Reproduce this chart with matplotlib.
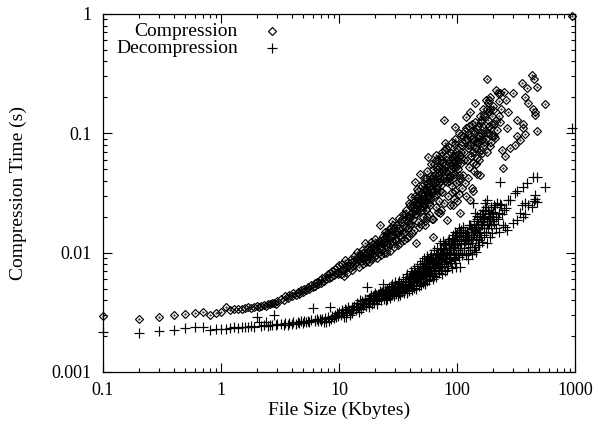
import matplotlib
matplotlib.use("Agg")
import matplotlib.pyplot as plt
from matplotlib.ticker import FixedLocator, LogLocator, NullFormatter

plt.rcParams["font.family"] = ["Liberation Serif", "DejaVu Serif"]

# file size (Kbytes), compression time (s), decompression time (s) -- one entry per file
size = [
    0.1, 0.2, 0.3, 0.4, 0.5, 0.6, 0.7, 0.8, 0.9, 1.0,
    1.1, 1.2, 1.3, 1.4, 1.5, 1.6, 1.7, 1.8, 1.9, 2.0,
    2.1, 2.2, 2.3, 2.4, 2.5, 2.6, 2.7, 2.8, 2.9, 3.0,
    3.2, 3.4, 3.5, 3.7, 3.8, 4.0, 4.1, 4.3, 4.5, 4.6,
    4.8, 5.0, 5.1, 5.3, 5.5, 5.6, 5.8, 6.0, 6.2, 6.3,
    6.5, 6.7, 6.9, 7.0, 7.2, 7.4, 7.6, 7.8, 8.0, 8.2,
    8.4, 8.6, 8.8, 9.0, 9.2, 9.4, 9.6, 9.8, 10.0, 9.9,
    10.3, 10.6, 10.9, 11.2, 11.5, 11.8, 12.0, 12.3, 12.6, 12.9,
    13.2, 13.5, 13.8, 14.1, 14.4, 14.7, 15.0, 15.3, 15.6, 15.9,
    16.2, 16.5, 16.8, 17.2, 17.5, 17.8, 18.1, 18.4, 18.7, 19.0,
    19.3, 19.6, 19.9, 20.3, 20.7, 21.1, 21.5, 21.9, 22.3, 22.7,
    23.1, 23.6, 24.0, 24.4, 24.8, 25.2, 25.6, 26.0, 26.4, 26.8,
    27.2, 27.6, 28.0, 28.4, 28.8, 29.2, 29.6, 30.0, 11.0, 17.0,
    30.5, 31, 31.5, 32, 32.6, 33.2, 33.8, 34.4, 35, 35.6,
    36.2, 36.8, 37.4, 38, 38.6, 39.2, 39.8, 40.4, 41, 41.6,
    42.2, 42.8, 43.4, 44, 44.6, 45.2, 45.8, 46.4, 47, 47.6,
    48.2, 48.8, 49.4, 50, 50.6, 51.2, 51.8, 52.4, 53, 53.6,
    54.2, 54.8, 55.4, 56, 56.6, 57.2, 57.8, 58.4, 59, 59.6,
    60.5, 61.5, 62.5, 63, 64, 65, 66, 67, 68, 69,
    70, 71, 72, 73, 74, 75, 76, 77, 78, 79,
    80, 81.7, 83, 84.5, 86, 87.5, 89, 90.5, 92, 93.5,
    95, 96, 97, 98, 99, 100, 102, 104, 106, 108,
    33, 38.3, 43, 47.3, 52, 56.3, 61, 65.5, 71.5, 76.5,
    34.8, 39.5, 44.3, 49, 53.5, 58, 62, 67.5, 73.5, 82,
    37, 41.3, 45.5, 50.3, 55, 59.3, 63.5, 68.5, 74.5, 85,
    88, 91, 94, 97.5, 101, 103, 105, 107, 109, 111,
    113, 115, 117, 119, 121, 123, 125, 127, 129, 131,
    133, 135, 137, 139, 141, 142, 144, 146, 147, 149,
    151, 153, 155, 157, 159, 161, 163, 166, 169, 173,
    176, 179, 179.5, 183, 186, 189, 191, 195, 199, 202,
    206, 210, 214, 217, 222, 228, 233, 239, 245, 250,
    255, 264, 270, 282, 298, 309, 320, 342, 353, 362,
    377, 389, 400, 430, 444, 450, 458, 473, 557, 950,
    380, 473.5, 458.5, 362.5, 320.5, 230, 190, 175, 160, 140,
    120, 130, 155.5, 165, 185, 200, 215, 225, 235, 260,
    15.5, 16.0, 18.0, 19.5, 21.0, 22.0, 23.5, 25.0, 26.5, 28.5,
    29.0, 31.8, 34.0, 36.5, 39.0, 41.0, 43.8, 46.0, 48.5, 51.5,
    54.5, 57.5, 60, 62.8, 65.8, 69.5, 72.5, 75.5, 78.5, 81,
    84, 87, 90, 93, 96.5, 99.5, 103.5, 107.5, 112, 116,
    118, 122, 126, 130.5, 134, 138, 143, 148, 152, 156,
    160.5, 164, 168, 172, 178, 182, 188, 194, 198, 205,
    40, 45, 50.5, 55.5, 60.2, 66.5, 72.2, 79.5, 86.5, 94.5,
    42, 47.8, 53.2, 58.8, 64.5, 70.5, 77.5, 85.5, 95.5, 105.5,
    63.8, 68.8, 74.8, 80.5, 88.5, 96.8, 110, 124, 138.5, 150,
    10.5, 12.2, 13.9, 15.8, 17.7, 19.7, 21.7, 24.2, 26.2, 28.2,
    25.5, 27.8, 30.2, 32.3, 34.6, 36.9, 39.3, 41.8, 44.5, 46.8,
    49.8, 52.8, 55.8, 58.2, 61.2, 64.2, 67.2, 70.8, 73.8, 77.2,
    80.8, 84.8, 88.8, 92.8, 96.2, 100.5, 104.5, 108.5, 114, 124.5,
    128, 132, 136, 145, 154, 162, 170, 180, 187, 197,
    18.5, 20.5, 22.5, 24.6, 53.8, 62.2, 71.2, 92.5, 118.5, 136.5,
    11.4, 12.8, 14.2, 15.2, 16.7, 18.3, 19.8, 20.9, 23.0, 24.7,
]

comp_time = [
    0.00296, 0.00278, 0.0029, 0.0030, 0.00305, 0.0031, 0.00316, 0.0030, 0.0031, 0.0032,
    0.00348, 0.0033, 0.00335, 0.0034, 0.00338, 0.00345, 0.0035, 0.00342, 0.0035, 0.00355,
    0.00352, 0.0036, 0.00365, 0.0036, 0.0037, 0.00368, 0.00375, 0.0038, 0.00372, 0.0039,
    0.0041, 0.0040, 0.0043, 0.0042, 0.0044, 0.0043, 0.0046, 0.0044, 0.0047, 0.0045,
    0.0049, 0.0047, 0.0050, 0.0049, 0.0052, 0.0050, 0.0054, 0.0052, 0.0056, 0.0053,
    0.0057, 0.0055, 0.0059, 0.0056, 0.0061, 0.0058, 0.0063, 0.0060, 0.0066, 0.0061,
    0.0068, 0.0063, 0.0070, 0.0065, 0.0073, 0.0067, 0.0076, 0.0069, 0.0079, 0.0066,
    0.0066, 0.0080, 0.0071, 0.0086, 0.0075, 0.0068, 0.0084, 0.0074, 0.0089, 0.0072,
    0.0078, 0.0093, 0.0082, 0.0102, 0.0088, 0.0076, 0.0097, 0.0085, 0.0106, 0.0081,
    0.0090, 0.0120, 0.0086, 0.0108, 0.0094, 0.0083, 0.0113, 0.0097, 0.0124, 0.0089,
    0.0098, 0.0118, 0.0092, 0.0130, 0.0104, 0.0090, 0.0123, 0.0101, 0.0172, 0.0096,
    0.0106, 0.0138, 0.0100, 0.0150, 0.0115, 0.0099, 0.0145, 0.0112, 0.0158, 0.0104,
    0.0118, 0.0160, 0.0186, 0.0125, 0.0170, 0.0111, 0.0150, 0.0130, 0.0064, 0.0084,
    0.0125, 0.0170, 0.0115, 0.0195, 0.0140, 0.0120, 0.0180, 0.0135, 0.0210, 0.0128,
    0.0150, 0.0230, 0.0132, 0.0200, 0.0160, 0.0138, 0.0250, 0.0175, 0.0295, 0.0145,
    0.0190, 0.0270, 0.0155, 0.0394, 0.0210, 0.0120, 0.0290, 0.0180, 0.0330, 0.0165,
    0.0460, 0.0220, 0.0310, 0.0175, 0.0360, 0.0240, 0.0200, 0.0420, 0.0260, 0.0185,
    0.0340, 0.0230, 0.0480, 0.0200, 0.0380, 0.0630, 0.0280, 0.0210, 0.0440, 0.0250,
    0.0390, 0.0190, 0.0500, 0.0136, 0.0300, 0.0450, 0.0240, 0.0660, 0.0350, 0.0220,
    0.0520, 0.0270, 0.0400, 0.0230, 0.0560, 0.0320, 0.0440, 0.1290, 0.0260, 0.0830,
    0.0480, 0.0188, 0.0600, 0.0300, 0.0420, 0.0250, 0.0540, 0.0360, 0.0650, 0.0280,
    0.0460, 0.1130, 0.0330, 0.0700, 0.0520, 0.0270, 0.0600, 0.0400, 0.0214, 0.0970,
    0.0155, 0.0185, 0.0230, 0.0250, 0.0300, 0.0320, 0.0340, 0.0380, 0.0420, 0.0480,
    0.0145, 0.0175, 0.0210, 0.0235, 0.0275, 0.0300, 0.0330, 0.0310, 0.0370, 0.0390,
    0.0165, 0.0220, 0.0265, 0.0280, 0.0320, 0.0360, 0.0400, 0.0450, 0.0500, 0.0560,
    0.0440, 0.0320, 0.0580, 0.0380, 0.0500, 0.0310, 0.0660, 0.0420, 0.0560, 0.0350,
    0.0450, 0.0700, 0.0380, 0.1360, 0.0600, 0.0420, 0.0800, 0.0520, 0.0276, 0.0650,
    0.0350, 0.0900, 0.0565, 0.0480, 0.0750, 0.1810, 0.0550, 0.0850, 0.0620, 0.0460,
    0.0830, 0.0600, 0.0950, 0.0448, 0.0720, 0.1000, 0.0680, 0.1130, 0.0800, 0.1380,
    0.0900, 0.2840, 0.0700, 0.1800, 0.1000, 0.0780, 0.2000, 0.0850, 0.1200, 0.1570,
    0.0950, 0.0910, 0.1300, 0.1070, 0.2180, 0.1400, 0.2160, 0.0720, 0.0510, 0.2240,
    0.0640, 0.1100, 0.1520, 0.0750, 0.2180, 0.0800, 0.1300, 0.0880, 0.2660, 0.1200,
    0.0990, 0.2400, 0.1800, 0.3090, 0.1600, 0.2840, 0.1430, 0.1050, 0.1750, 0.97,
    0.2000, 0.2450, 0.1500, 0.1100, 0.0950, 0.1250, 0.1600, 0.1900, 0.1250, 0.1050,
    0.1100, 0.1500, 0.1400, 0.1600, 0.1900, 0.1700, 0.2300, 0.1850, 0.1600, 0.1900,
    0.0095, 0.0100, 0.0105, 0.0112, 0.0118, 0.0125, 0.0130, 0.0138, 0.0145, 0.0155,
    0.0160, 0.0150, 0.0190, 0.0210, 0.0260, 0.0240, 0.0300, 0.0340, 0.0280, 0.0380,
    0.0420, 0.0360, 0.0550, 0.0440, 0.0600, 0.0500, 0.0650, 0.0580, 0.0720, 0.0640,
    0.0780, 0.0700, 0.0850, 0.0600, 0.0900, 0.0750, 0.1000, 0.0800, 0.0950, 0.0880,
    0.1050, 0.0900, 0.1150, 0.0950, 0.1200, 0.1000, 0.1250, 0.1080, 0.1150, 0.0950,
    0.1300, 0.0880, 0.1450, 0.1050, 0.1600, 0.1300, 0.1500, 0.1100, 0.1400, 0.1200,
    0.0200, 0.0250, 0.0230, 0.0300, 0.0280, 0.0350, 0.0330, 0.0400, 0.0450, 0.0520,
    0.0250, 0.0300, 0.0350, 0.0400, 0.0380, 0.0450, 0.0500, 0.0480, 0.0600, 0.0650,
    0.0550, 0.0600, 0.0700, 0.0750, 0.0680, 0.0820, 0.0850, 0.0980, 0.0880, 0.0850,
    0.0073, 0.0078, 0.0088, 0.0090, 0.0100, 0.0108, 0.0110, 0.0122, 0.0130, 0.0140,
    0.0120, 0.0135, 0.0145, 0.0160, 0.0170, 0.0190, 0.0200, 0.0215, 0.0230, 0.0260,
    0.0270, 0.0250, 0.0330, 0.0260, 0.0420, 0.0330, 0.0500, 0.0380, 0.0600, 0.0420,
    0.0550, 0.0400, 0.0500, 0.0450, 0.0650, 0.0550, 0.0450, 0.0700, 0.0600, 0.0750,
    0.0800, 0.0650, 0.0700, 0.0750, 0.0700, 0.0900, 0.0850, 0.1000, 0.1150, 0.0950,
    0.0100, 0.0108, 0.0114, 0.0126, 0.0170, 0.0190, 0.0215, 0.0250, 0.0300, 0.0330,
    0.0078, 0.0083, 0.0091, 0.0095, 0.0098, 0.0106, 0.0114, 0.0116, 0.0120, 0.0133,
]

decomp_time = [
    0.00216, 0.00211, 0.00221, 0.00225, 0.00235, 0.00237, 0.00236, 0.00225, 0.0023, 0.0023,
    0.0023, 0.00235, 0.0024, 0.00232, 0.0024, 0.00238, 0.0024, 0.00242, 0.0024, 0.00287,
    0.0026, 0.00245, 0.0025, 0.00262, 0.00245, 0.0025, 0.00248, 0.0030, 0.0025, 0.00252,
    0.00252, 0.00248, 0.00255, 0.0025, 0.00258, 0.00252, 0.0026, 0.00254, 0.00262, 0.00256,
    0.00265, 0.00258, 0.00268, 0.0026, 0.0027, 0.00262, 0.00272, 0.00342, 0.00275, 0.00265,
    0.00278, 0.00268, 0.0028, 0.00265, 0.0028, 0.00262, 0.00283, 0.0026, 0.0029, 0.00268,
    0.00352, 0.0028, 0.00295, 0.00285, 0.0030, 0.0029, 0.0031, 0.00295, 0.0032, 0.0030,
    0.0030, 0.0033, 0.0031, 0.0034, 0.0029, 0.0032, 0.0035, 0.0030, 0.0033, 0.0031,
    0.0034, 0.0036, 0.0033, 0.0038, 0.0035, 0.0032, 0.0037, 0.0034, 0.0039, 0.0036,
    0.0037, 0.0040, 0.0036, 0.0052, 0.0038, 0.0035, 0.0042, 0.0039, 0.0044, 0.0037,
    0.0040, 0.0043, 0.0038, 0.0046, 0.0041, 0.0037, 0.0045, 0.0042, 0.0048, 0.0040,
    0.0043, 0.0055, 0.0041, 0.0049, 0.0044, 0.0040, 0.0050, 0.0045, 0.0052, 0.0042,
    0.0046, 0.0053, 0.0044, 0.0055, 0.0047, 0.0043, 0.0057, 0.0049, 0.0029, 0.0036,
    0.0045, 0.0052, 0.0043, 0.0058, 0.0048, 0.0044, 0.0055, 0.0047, 0.0060, 0.0046,
    0.0050, 0.0062, 0.0046, 0.0066, 0.0052, 0.0048, 0.0064, 0.0054, 0.0070, 0.0049,
    0.0056, 0.0074, 0.0051, 0.0068, 0.0058, 0.0050, 0.0078, 0.0060, 0.0072, 0.0053,
    0.0080, 0.0057, 0.0066, 0.0054, 0.0085, 0.0062, 0.0056, 0.0090, 0.0068, 0.0055,
    0.0072, 0.0060, 0.0094, 0.0058, 0.0078, 0.0088, 0.0064, 0.0059, 0.0092, 0.0066,
    0.0098, 0.0065, 0.0082, 0.0060, 0.0105, 0.0070, 0.0088, 0.0063, 0.0110, 0.0075,
    0.0092, 0.0068, 0.0120, 0.0072, 0.0100, 0.0066, 0.0125, 0.0080, 0.0105, 0.0070,
    0.0115, 0.0072, 0.0095, 0.0078, 0.0130, 0.0085, 0.0110, 0.0074, 0.0140, 0.0090,
    0.0120, 0.0082, 0.0150, 0.0095, 0.0076, 0.0135, 0.0100, 0.0160, 0.0076, 0.0150,
    0.0051, 0.0058, 0.0063, 0.0070, 0.0076, 0.0080, 0.0085, 0.0090, 0.0098, 0.0108,
    0.0053, 0.0060, 0.0065, 0.0061, 0.0072, 0.0068, 0.0077, 0.0082, 0.0088, 0.0102,
    0.0055, 0.0066, 0.0059, 0.0075, 0.0069, 0.0083, 0.0074, 0.0096, 0.0084, 0.0118,
    0.0098, 0.0125, 0.0088, 0.0140, 0.0105, 0.0092, 0.0145, 0.0110, 0.0155, 0.0098,
    0.0165, 0.0110, 0.0125, 0.0095, 0.0150, 0.0118, 0.0088, 0.0135, 0.0105, 0.0160,
    0.0120, 0.0098, 0.0260, 0.0140, 0.0112, 0.0214, 0.0130, 0.0102, 0.0201, 0.0145,
    0.0175, 0.0128, 0.0115, 0.0146, 0.0185, 0.0135, 0.0122, 0.0190, 0.0140, 0.0260,
    0.0150, 0.0120, 0.0276, 0.0160, 0.0200, 0.0135, 0.0201, 0.0170, 0.0145, 0.0220,
    0.0175, 0.0243, 0.0160, 0.0260, 0.0190, 0.0150, 0.0394, 0.0210, 0.0170, 0.0230,
    0.0165, 0.0155, 0.0276, 0.0276, 0.0176, 0.0315, 0.0330, 0.0214, 0.0250, 0.0358,
    0.0210, 0.0380, 0.0250, 0.0243, 0.0429, 0.0270, 0.0304, 0.0267, 0.0358, 0.110,
    0.0260, 0.0433, 0.0280, 0.0200, 0.0188, 0.0255, 0.0190, 0.0240, 0.0170, 0.0185,
    0.0140, 0.0170, 0.0210, 0.0230, 0.0175, 0.0185, 0.0200, 0.0215, 0.0250, 0.0235,
    0.0035, 0.0038, 0.0040, 0.0042, 0.0041, 0.0045, 0.0044, 0.0047, 0.0046, 0.0050,
    0.0052, 0.0056, 0.0050, 0.0057, 0.0063, 0.0057, 0.0069, 0.0064, 0.0072, 0.0070,
    0.0078, 0.0074, 0.0090, 0.0086, 0.0095, 0.0090, 0.0108, 0.0095, 0.0118, 0.0110,
    0.0125, 0.0105, 0.0132, 0.0115, 0.0128, 0.0145, 0.0138, 0.0125, 0.0140, 0.0130,
    0.0150, 0.0135, 0.0170, 0.0148, 0.0158, 0.0175, 0.0155, 0.0190, 0.0165, 0.0200,
    0.0180, 0.0210, 0.0195, 0.0225, 0.0185, 0.0230, 0.0215, 0.0240, 0.0200, 0.0250,
    0.0060, 0.0062, 0.0068, 0.0072, 0.0070, 0.0080, 0.0078, 0.0088, 0.0092, 0.0100,
    0.0058, 0.0066, 0.0060, 0.0070, 0.0076, 0.0072, 0.0084, 0.0090, 0.0086, 0.0110,
    0.0068, 0.0078, 0.0076, 0.0085, 0.0082, 0.0092, 0.0095, 0.0100, 0.0105, 0.0115,
    0.0032, 0.0033, 0.0035, 0.0037, 0.0039, 0.0041, 0.0043, 0.0045, 0.0048, 0.0050,
    0.0041, 0.0047, 0.0049, 0.0046, 0.0054, 0.0051, 0.0058, 0.0053, 0.0061, 0.0066,
    0.0063, 0.0082, 0.0066, 0.0086, 0.0080, 0.0064, 0.0100, 0.0086, 0.0090, 0.0115,
    0.0095, 0.0100, 0.0120, 0.0105, 0.0115, 0.0120, 0.0130, 0.0118, 0.0120, 0.0140,
    0.0112, 0.0130, 0.0150, 0.0165, 0.0150, 0.0170, 0.0160, 0.0175, 0.0190, 0.0210,
    0.0043, 0.0044, 0.0046, 0.0048, 0.0074, 0.0081, 0.0093, 0.0112, 0.0128, 0.0135,
    0.0033, 0.0035, 0.0036, 0.0040, 0.0041, 0.0042, 0.0044, 0.0039, 0.0047, 0.0044,
]

x_ticks = [0.1, 1, 10, 100, 1000]
x_labels = ["0.1", "1", "10", "100", "1000"]
y_ticks = [0.001, 0.01, 0.1, 1]
y_labels = ["0.001", "0.01", "0.1", "1"]

fig = plt.figure(figsize=(5.98, 4.28), dpi=100)
ax = fig.add_axes([103 / 598, 1 - 372 / 428, 472 / 598, 358 / 428])

ax.plot(size, comp_time, ls="none", marker="D", ms=4.4, mfc="none",
        mec="black", mew=0.85, clip_on=False)
ax.plot(size, comp_time, ls="none", marker=".", ms=1.0, color="black", clip_on=False)
ax.plot(size, decomp_time, ls="none", marker="+", ms=6.5, mew=0.85,
        color="black", clip_on=False)

ax.set_xscale("log")
ax.set_yscale("log")
ax.set_xlim(0.1, 1000)
ax.set_ylim(0.001, 1)
ax.xaxis.set_major_locator(FixedLocator(x_ticks))
ax.set_xticklabels(x_labels)
ax.yaxis.set_major_locator(FixedLocator(y_ticks))
ax.set_yticklabels(y_labels)
ax.xaxis.set_minor_locator(LogLocator(base=10, subs=range(2, 10)))
ax.yaxis.set_minor_locator(LogLocator(base=10, subs=range(2, 10)))
ax.xaxis.set_minor_formatter(NullFormatter())
ax.yaxis.set_minor_formatter(NullFormatter())

ax.tick_params(which="both", direction="in", top=True, right=True,
               labelsize=13, width=0.8)
ax.tick_params(axis="y", pad=8)
ax.tick_params(axis="x", pad=7)
ax.tick_params(which="major", length=6.5)
ax.tick_params(which="minor", length=3.2)
for sp in ax.spines.values():
    sp.set_linewidth(0.9)

ax.set_xlabel("File Size (Kbytes)", fontsize=14, va="top")
ax.xaxis.set_label_coords(0.5, -0.082)
ax.set_ylabel("Compression Time (s)", fontsize=14)
ax.yaxis.set_label_coords(-0.16, 0.5)

# legend, gnuplot style: right-aligned titles with the sample to the right
for yy, name, mk, kw in [(0.9525, "Compression", "D", dict(ms=4.4, mfc="none", mec="black", mew=0.85)),
                         (0.905, "Decompression", "+", dict(ms=6.5, mew=0.85, color="black"))]:
    ax.text(0.286, yy, name, transform=ax.transAxes, ha="right", va="center", fontsize=14)
    ax.plot([0.358], [yy], transform=ax.transAxes, ls="none", marker=mk, **kw)

fig.savefig("out.png", dpi=100, facecolor="white")
